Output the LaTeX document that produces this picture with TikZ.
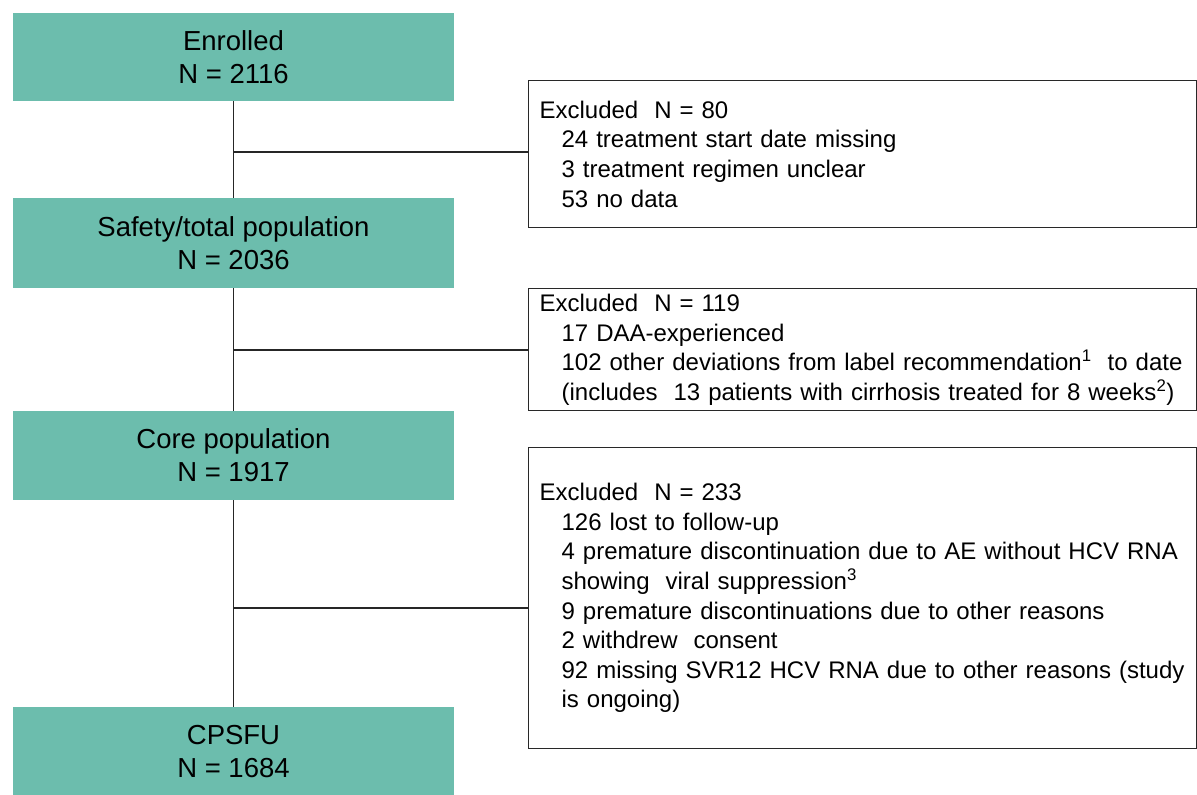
\documentclass[tikz,border=0pt]{standalone}
\usepackage{fontspec}
\setmainfont{Liberation Sans}
\definecolor{teal1}{RGB}{108,189,173}
\definecolor{edge}{RGB}{40,40,40}
\newcommand{\ind}{\hspace*{22pt}}
\begin{document}
\begin{tikzpicture}[x=1pt,y=-1pt,
  greenbox/.style={fill=teal1, draw=none, minimum width=441pt, align=center, inner sep=0pt, font=\fontsize{27.5}{33}\selectfont},
  exbox/.style={draw=edge, line width=1.2pt, anchor=north west, align=left, inner xsep=11pt, inner ysep=0pt, font=\fontsize{24}{29.6}\selectfont, text width=646pt},
  conn/.style={draw=black!85, line width=1.6pt}
]
\useasboundingbox (0,0) rectangle (1197,795);
\node[greenbox, minimum height=88pt] (b1) at (233.5,57) {Enrolled\\N = 2116};
\node[greenbox, minimum height=90pt] (b2) at (233.5,243) {Safety/total population\\N = 2036};
\node[greenbox, minimum height=89pt] (b3) at (233.5,455.5) {Core population\\N = 1917};
\node[greenbox, minimum height=90pt] (b4) at (233.5,752) {CPSFU\\N = 1684};

\node[exbox, minimum height=147pt] (e1) at (528,80) {Excluded\ \ N = 80\\
\ind 24 treatment start date missing\\
\ind 3 treatment regimen unclear\\
\ind 53 no data};
\node[exbox, minimum height=122pt] (e2) at (528,288) {Excluded\ \ N = 119\\
\ind 17 DAA-experienced\\
\ind 102 other deviations from label recommendation\textsuperscript{1}\ \ to date\\
\ind (includes\ \ 13 patients with cirrhosis treated for 8 weeks\textsuperscript{2})};
\node[exbox, minimum height=301pt] (e3) at (528,447) {Excluded\ \ N = 233\\
\ind 126 lost to follow-up\\
\ind\makebox[618pt][s]{4 premature discontinuation due to AE without HCV RNA}\\
\ind showing\ \ viral suppression\textsuperscript{3}\\
\ind 9 premature discontinuations due to other reasons\\
\ind 2 withdrew\ \ consent\\
\ind\makebox[624pt][s]{92 missing SVR12 HCV RNA due to other reasons (study}\\
\ind is ongoing)};

\coordinate (vx) at (233.5,0);
\draw[conn] (b1.south -| vx) -- (b2.north -| vx);
\draw[conn] (b2.south -| vx) -- (b3.north -| vx);
\draw[conn] (b3.south -| vx) -- (b4.north -| vx);
\coordinate (h1) at (233.5,152);
\coordinate (h2) at (233.5,350);
\coordinate (h3) at (233.5,608);
\draw[conn] (h1) -- (h1 -| e1.west);
\draw[conn] (h2) -- (h2 -| e2.west);
\draw[conn] (h3) -- (h3 -| e3.west);
\end{tikzpicture}
\end{document}
